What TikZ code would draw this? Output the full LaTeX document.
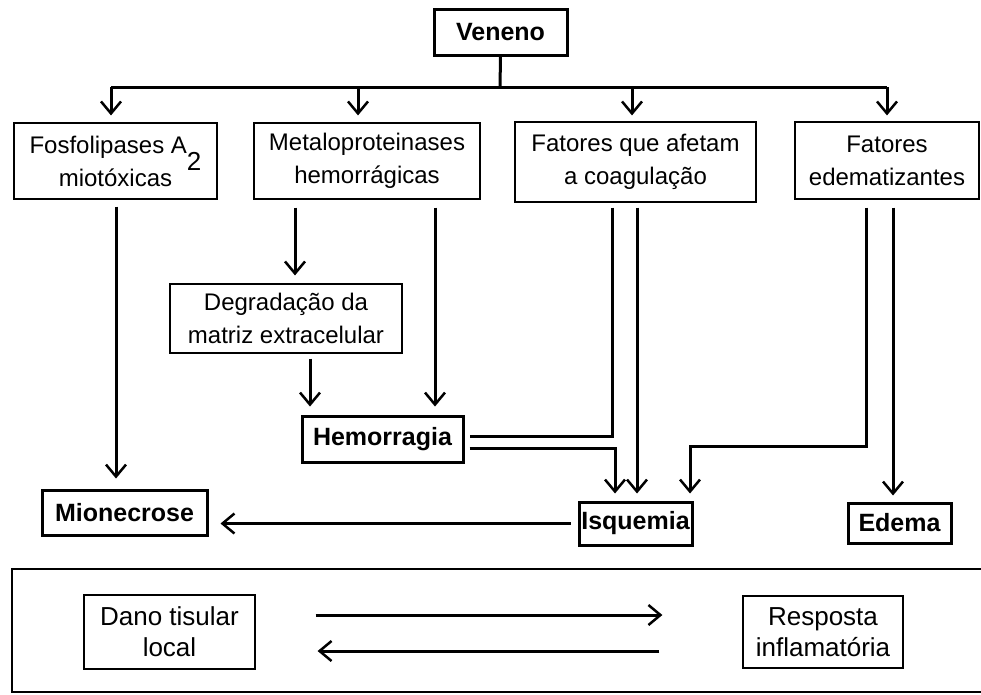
\documentclass[tikz,border=0pt]{standalone}
\usepackage{fontspec}
\setmainfont{Liberation Sans}
\usetikzlibrary{arrows.meta}
\begin{document}
\begin{tikzpicture}[x=1pt,y=-1pt,
  box/.style={draw,line width=1.2pt,inner sep=0pt,align=center,font=\fontsize{24}{33}\selectfont},
  bbox/.style={draw,line width=3pt,inner sep=0pt,font=\fontsize{25}{30}\selectfont\bfseries},
  lbox/.style={draw,line width=1.2pt,inner sep=0pt,align=center,font=\fontsize{26}{31}\selectfont},
  conn/.style={line width=3pt},
  arr/.style={conn,-{Straight Barb[length=12pt,width=20pt,line width=2.5pt]}},
]
\useasboundingbox (0,0) rectangle (981,694);

% nodes
\node[bbox,minimum width=133pt,minimum height=46pt] (veneno) at (500.5,32) {Veneno};
\node[box,minimum width=203pt,minimum height=76pt] (fosfo) at (115.5,161)
  {Fosfolipases A\raisebox{-17pt}[0pt][0pt]{\fontsize{26}{26}\selectfont 2}\\miotóxicas};
\node[box,minimum width=226pt,minimum height=76pt] (metalo) at (367,161) {Metaloproteinases\\hemorrágicas};
\node[box,minimum width=241pt,minimum height=80pt] (coag) at (635.5,162) {Fatores que afetam\\a coagulação};
\node[box,minimum width=184pt,minimum height=77pt] (edemat) at (887,160.5) {Fatores\\edematizantes};
\node[box,minimum width=232pt,minimum height=69pt] (degrad) at (286,318.5) {Degradação da\\matriz extracelular};
\node[bbox,minimum width=161pt,minimum height=46pt] (hemor) at (382.5,439) {Hemorragia};
\node[bbox,minimum width=165pt,minimum height=45pt] (mionec) at (124.5,512.5) {Mionecrose};
\node[bbox,minimum width=113pt,minimum height=43pt] (isq) at (635.5,523.5) {Isquemia};
\node[bbox,minimum width=103pt,minimum height=40pt] (edema) at (899.5,523) {Edema};

\node[draw,line width=2.5pt,minimum width=978pt,minimum height=123pt,inner sep=0pt] (frame) at (501,630.5) {};
\node[lbox,minimum width=171pt,minimum height=74pt] (dano) at (169.5,632) {Dano tisular\\local};
\node[lbox,minimum width=160pt,minimum height=72pt] (resp) at (823,632) {Resposta\\inflamatória};

% x positions of vertical connectors
\coordinate (j) at (500,87);
\coordinate (xa) at (111,0);
\coordinate (xb) at (358,0);
\coordinate (xc) at (632,0);
\coordinate (xd) at (887,0);
\coordinate (x116) at (116,0);
\coordinate (x295) at (295,0);
\coordinate (x435) at (435,0);
\coordinate (x310) at (310,0);
\coordinate (x612) at (612,0);
\coordinate (x615) at (615,0);
\coordinate (x637) at (637,0);
\coordinate (x866) at (866,0);
\coordinate (x893) at (893,0);
\coordinate (k) at (690,446);

% top distribution
\draw[conn] (veneno.south) -- (j);
\draw[conn] (j -| xa) -- (j -| xd);
\draw[arr,shorten >=7pt] (j -| xa) -- (fosfo.north -| xa);
\draw[arr,shorten >=7pt] (j -| xb) -- (metalo.north -| xb);
\draw[arr,shorten >=6pt] (j -| xc) -- (coag.north -| xc);
\draw[arr,shorten >=6pt] (j -| xd) -- (edemat.north -| xd);

% middle
\draw[arr,shorten <=7pt,shorten >=10pt] (fosfo.south -| x116) -- (mionec.north -| x116);
\draw[arr,shorten <=8pt,shorten >=8pt] (metalo.south -| x295) -- (degrad.north -| x295);
\draw[arr,shorten <=8pt,shorten >=8pt] (metalo.south -| x435) -- (hemor.north -| x435);
\draw[arr,shorten <=5pt,shorten >=8pt] (degrad.south -| x310) -- (hemor.north -| x310);
\draw[conn,shorten <=5pt,shorten >=5pt] (coag.south -| x612) |- ([yshift=3pt]hemor.east);
\draw[arr,shorten <=5pt,shorten >=7pt] ([yshift=-9pt]hemor.east) -| (isq.north -| x615);
\draw[arr,shorten <=5pt,shorten >=7pt] (coag.south -| x637) -- (isq.north -| x637);
\draw[arr,shorten <=8pt,shorten >=7pt] (edemat.south -| x866) |- (k) -- (isq.north -| k);
\draw[arr,shorten <=8pt,shorten >=6pt] (edemat.south -| x893) -- (edema.north -| x893);
\draw[arr,shorten <=7pt,shorten >=12pt] (isq.west) -- (isq.west -| mionec.east);

% bottom
\draw[arr,shorten <=60pt,shorten >=80pt] ([yshift=17pt]dano.east) -- ([yshift=17pt]dano.east -| resp.west);
\draw[arr,shorten <=83pt,shorten >=62pt] ([yshift=-19pt]resp.west) -- ([yshift=-19pt]resp.west -| dano.east);
\end{tikzpicture}
\end{document}
